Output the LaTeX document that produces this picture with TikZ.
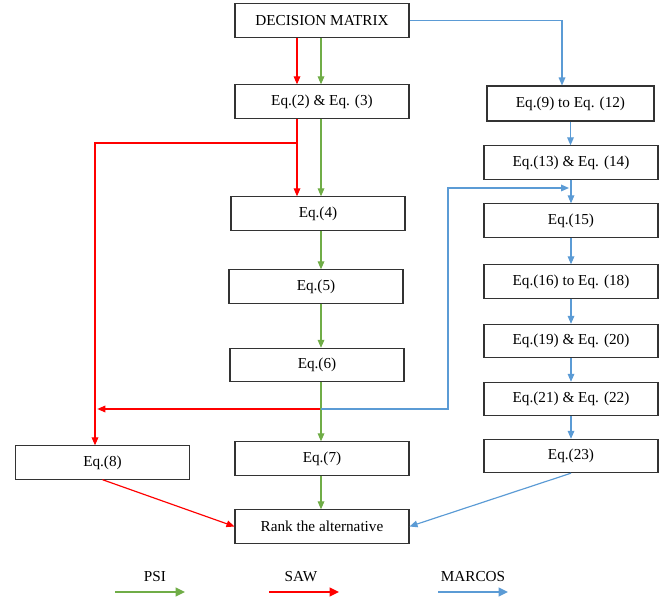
\documentclass[tikz,border=0pt]{standalone}
\usepackage{fontspec}
\setmainfont{Liberation Serif}
\usetikzlibrary{arrows.meta}

\definecolor{psigreen}{RGB}{112,173,71}
\definecolor{sawred}{RGB}{255,0,0}
\definecolor{marcosblue}{RGB}{91,155,213}

\tikzset{
  box/.style={draw=black!80, line width=0.9pt, shape=rectangle,
    minimum width=5.22cm, minimum height=1cm, inner sep=2pt,
    font=\fontsize{13}{15}\selectfont},
  flow/.style={line width=1pt, -{Triangle[length=2.4mm,width=2mm]}},
  psi/.style={flow, draw=psigreen},
  saw/.style={flow, draw=sawred},
  marcos/.style={flow, draw=marcosblue},
  legarrow/.style={line width=1.4pt, -{Triangle[length=2.8mm,width=2.6mm]}},
  legend/.style={font=\fontsize{13}{15}\selectfont, inner sep=1pt}
}

\begin{document}
\begin{tikzpicture}[x=0.03cm, y=-0.03cm]
    \useasboundingbox (0,0) rectangle (666,598);

    % middle column
    \node[box] (dm)   at (322,20.5)  {DECISION MATRIX};
    \node[box] (eqA)  at (322,101.5) {Eq.(2) \& Eq. (3)};
    \node[box] (eqB)  at (318,213.5) {Eq.(4)};
    \node[box] (eqC)  at (316,286.5) {Eq.(5)};
    \node[box] (eqD)  at (317,365)   {Eq.(6)};
    \node[box] (eqE)  at (322,458.5) {Eq.(7)};
    \node[box] (rank) at (322,526.5) {Rank the alternative};
    \node[box] (eqF)  at (102.5,462.5) {Eq.(8)};

    % right column
    \node[box, minimum width=5.01cm, minimum height=1.05cm] (r1) at (570.5,103.5) {Eq.(9) to Eq. (12)};
    \foreach \n/\y/\t in {2/162.5/{Eq.(13) \& Eq. (14)}, 3/220.5/{Eq.(15)},
        4/281.5/{Eq.(16) to Eq. (18)}, 5/341/{Eq.(19) \& Eq. (20)},
        6/399/{Eq.(21) \& Eq. (22)}, 7/456/{Eq.(23)}}
      \node[box] (r\n) at (571,\y) {\t};

    \coordinate (sawx) at (297,0);
    \coordinate (psix) at (321,0);
    \coordinate (mcol) at (562,0);
    \coordinate (sawbend) at (297,143);
    \coordinate (sawleft) at (95,143);
    \coordinate (split) at (321,409);
    \coordinate (loopx) at (448,0);
    \coordinate (join) at (569,188);

    % SAW
    \draw[saw] (dm.south -| sawx) -- (eqA.north -| sawx);
    \draw[saw] (eqA.south -| sawx) -- (eqB.north -| sawx);
    \draw[saw] (sawbend) -- (sawleft) -- (sawleft |- eqF.north);
    \draw[saw] (split) -- ([xshift=2pt]split -| sawleft);
    \draw[saw] (eqF.south) -- (rank.west);

    % PSI
    \draw[psi] (dm.south -| psix) -- (eqA.north -| psix);
    \foreach \a/\b in {eqA/eqB, eqB/eqC, eqC/eqD, eqD/eqE, eqE/rank}
      \draw[psi] (\a.south -| psix) -- (\b.north -| psix);

    % MARCOS
    \draw[marcos] (dm.east) -| (r1.north -| mcol);
    \foreach \i/\j in {1/2, 2/3, 3/4, 4/5, 5/6, 6/7}
      \draw[marcos] (r\i.south) -- (r\i.south |- r\j.north);
    \draw[marcos] (split) -| (loopx |- join) -- (join);
    \draw[marcos] (r7.south) -- (rank.east);

    % legend
    \foreach \lab/\sty/\x/\tx in {PSI/psi/150/155, SAW/saw/304/301, MARCOS/marcos/473/473} {
      \node[legend] (\sty lab) at (\tx,577) {\lab};
      \coordinate (\sty a) at (\x-35,592);
      \coordinate (\sty b) at (\x+35,592);
      \draw[\sty, legarrow] (\sty a) -- (\sty b);
    }
\end{tikzpicture}
\end{document}
